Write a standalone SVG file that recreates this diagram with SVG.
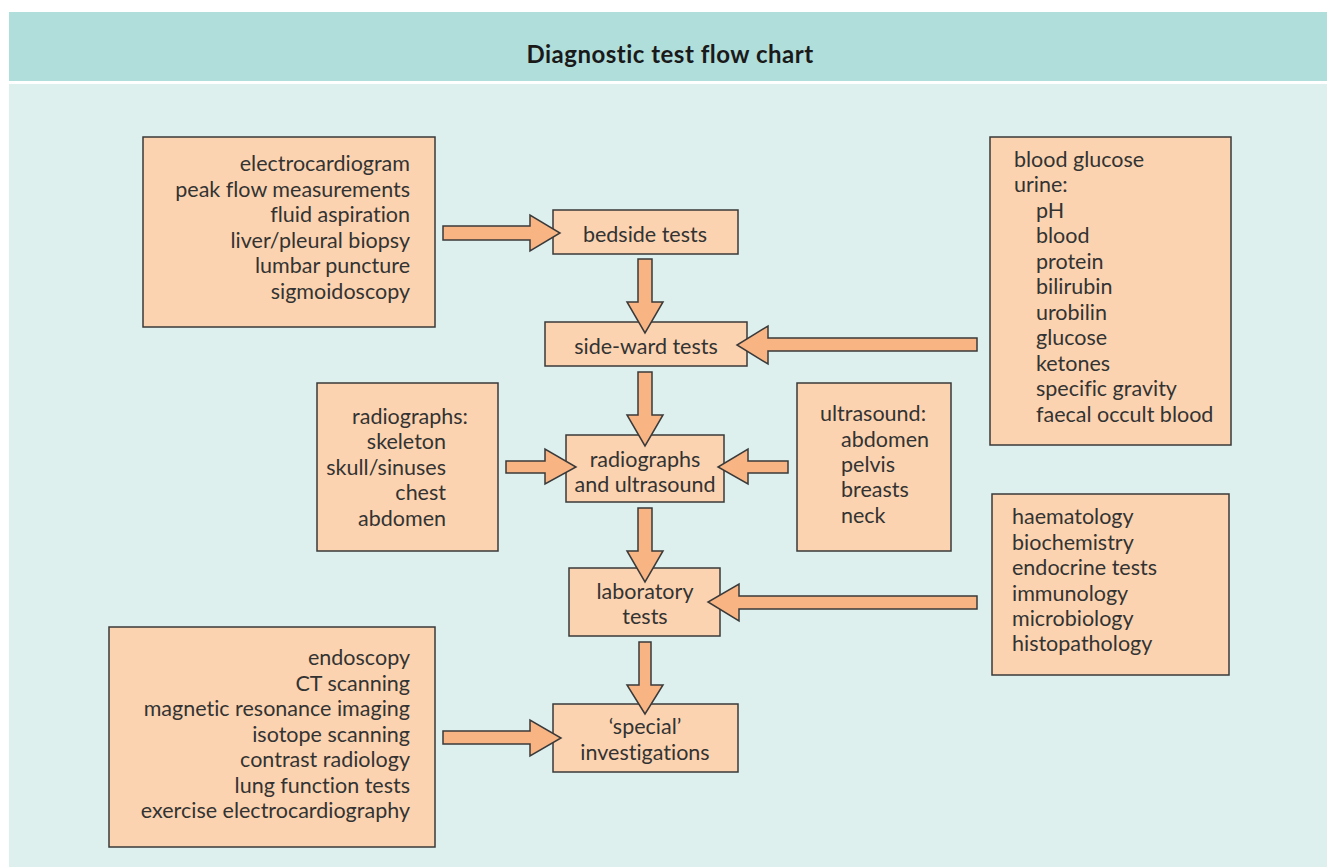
<svg xmlns="http://www.w3.org/2000/svg" width="1327" height="867" viewBox="0 0 1327 867">
  <style>
    .box { fill: #FCD3B0; stroke: #3a3a3a; stroke-width: 1.5; }
    .arrow { fill: #F8B482; stroke: #3a3a3a; stroke-width: 1.5; stroke-linejoin: miter; }
    text { font-family: "Lato", "Noto Sans", "Liberation Sans", sans-serif; font-size: 21.5px; fill: #333333; font-variant-ligatures: none; }
    .title { font-weight: bold; font-size: 24px; letter-spacing: 0.5px; fill: #1a1a1a; }
    .c { text-anchor: middle; }
    .r { text-anchor: end; }
  </style>

  <!-- background panels -->
  <rect x="9" y="12" width="1318" height="69" fill="#B0DEDA"/>
  <rect x="9" y="84" width="1318" height="783" fill="#DDF0EE"/>
  <text class="title c" x="670" y="63">Diagnostic test flow chart</text>

  <!-- source lists -->
  <g id="bedside-list">
    <rect class="box" x="143" y="137" width="292" height="190"/>
    <text class="r" x="410" y="171">electrocardiogram</text>
    <text class="r" x="410" y="197">peak flow measurements</text>
    <text class="r" x="410" y="222">fluid aspiration</text>
    <text class="r" x="410" y="248">liver/pleural biopsy</text>
    <text class="r" x="410" y="273">lumbar puncture</text>
    <text class="r" x="410" y="299">sigmoidoscopy</text>
  </g>

  <g id="sideward-list">
    <rect class="box" x="990" y="137" width="241" height="308"/>
    <text x="1014" y="167">blood glucose</text>
    <text x="1014" y="192">urine:</text>
    <text x="1036" y="218">pH</text>
    <text x="1036" y="243">blood</text>
    <text x="1036" y="269">protein</text>
    <text x="1036" y="294">bilirubin</text>
    <text x="1036" y="320">urobilin</text>
    <text x="1036" y="345">glucose</text>
    <text x="1036" y="371">ketones</text>
    <text x="1036" y="396">specific gravity</text>
    <text x="1036" y="422">faecal occult blood</text>
  </g>

  <g id="radiograph-list">
    <rect class="box" x="317" y="383" width="181" height="168"/>
    <text class="r" x="468" y="424">radiographs:</text>
    <text class="r" x="446" y="449">skeleton</text>
    <text class="r" x="446" y="475">skull/sinuses</text>
    <text class="r" x="446" y="500">chest</text>
    <text class="r" x="446" y="526">abdomen</text>
  </g>

  <g id="ultrasound-list">
    <rect class="box" x="797" y="383" width="154" height="168"/>
    <text x="820" y="421">ultrasound:</text>
    <text x="841" y="447">abdomen</text>
    <text x="841" y="472">pelvis</text>
    <text x="841" y="497">breasts</text>
    <text x="841" y="523">neck</text>
  </g>

  <g id="laboratory-list">
    <rect class="box" x="992" y="494" width="237" height="181"/>
    <text x="1012" y="524">haematology</text>
    <text x="1012" y="550">biochemistry</text>
    <text x="1012" y="575">endocrine tests</text>
    <text x="1012" y="601">immunology</text>
    <text x="1012" y="626">microbiology</text>
    <text x="1012" y="651">histopathology</text>
  </g>

  <g id="special-list">
    <rect class="box" x="109" y="627" width="326" height="220"/>
    <text class="r" x="410" y="665">endoscopy</text>
    <text class="r" x="410" y="691">CT scanning</text>
    <text class="r" x="410" y="716">magnetic resonance imaging</text>
    <text class="r" x="410" y="742">isotope scanning</text>
    <text class="r" x="410" y="767">contrast radiology</text>
    <text class="r" x="410" y="793">lung function tests</text>
    <text class="r" x="410" y="818">exercise electrocardiography</text>
  </g>

  <!-- main chain -->
  <g id="bedside">
    <rect class="box" x="553" y="210" width="185" height="44"/>
    <text class="c" x="645" y="242">bedside tests</text>
  </g>
  <g id="sideward">
    <rect class="box" x="545" y="322" width="202" height="44"/>
    <text class="c" x="646" y="354">side-ward tests</text>
  </g>
  <g id="imaging">
    <rect class="box" x="566" y="435" width="158" height="67"/>
    <text class="c" x="645" y="467">radiographs</text>
    <text class="c" x="645" y="492">and ultrasound</text>
  </g>
  <g id="laboratory">
    <rect class="box" x="569" y="568" width="151" height="68"/>
    <text class="c" x="645" y="599">laboratory</text>
    <text class="c" x="645" y="624">tests</text>
  </g>
  <g id="special">
    <rect class="box" x="553" y="704" width="185" height="68"/>
    <text class="c" x="645" y="734">‘special’</text>
    <text class="c" x="645" y="760">investigations</text>
  </g>

  <!-- block arrows -->
  <g id="connectors">
    <!-- list to bedside -->
    <polygon class="arrow" points="443,226 530,226 530,215 560,233 530,251 530,240 443,240"/>
    <!-- bedside to side-ward -->
    <polygon class="arrow" points="638,259 652,259 652,302 663,302 645,333 627,302 638,302"/>
    <!-- urine list to side-ward -->
    <polygon class="arrow" points="977,338 768,338 768,326 737,345 768,364 768,351 977,351"/>
    <!-- side-ward to imaging -->
    <polygon class="arrow" points="638,372 652,372 652,415 663,415 645,446 627,415 638,415"/>
    <!-- radiograph list to imaging -->
    <polygon class="arrow" points="506,461 545,461 545,449 576,467 545,484 545,473 506,473"/>
    <!-- ultrasound list to imaging -->
    <polygon class="arrow" points="788,461 748,461 748,449 718,467 748,484 748,473 788,473"/>
    <!-- imaging to laboratory -->
    <polygon class="arrow" points="638,508 652,508 652,551 663,551 645,582 627,551 638,551"/>
    <!-- laboratory list to laboratory -->
    <polygon class="arrow" points="977,596 739,596 739,584 708,602 739,621 739,609 977,609"/>
    <!-- laboratory to special -->
    <polygon class="arrow" points="639,642 651,642 651,685 663,685 645,714 627,685 639,685"/>
    <!-- special list to special -->
    <polygon class="arrow" points="443,731 530,731 530,720 561,738 530,756 530,744 443,744"/>
  </g>
</svg>
